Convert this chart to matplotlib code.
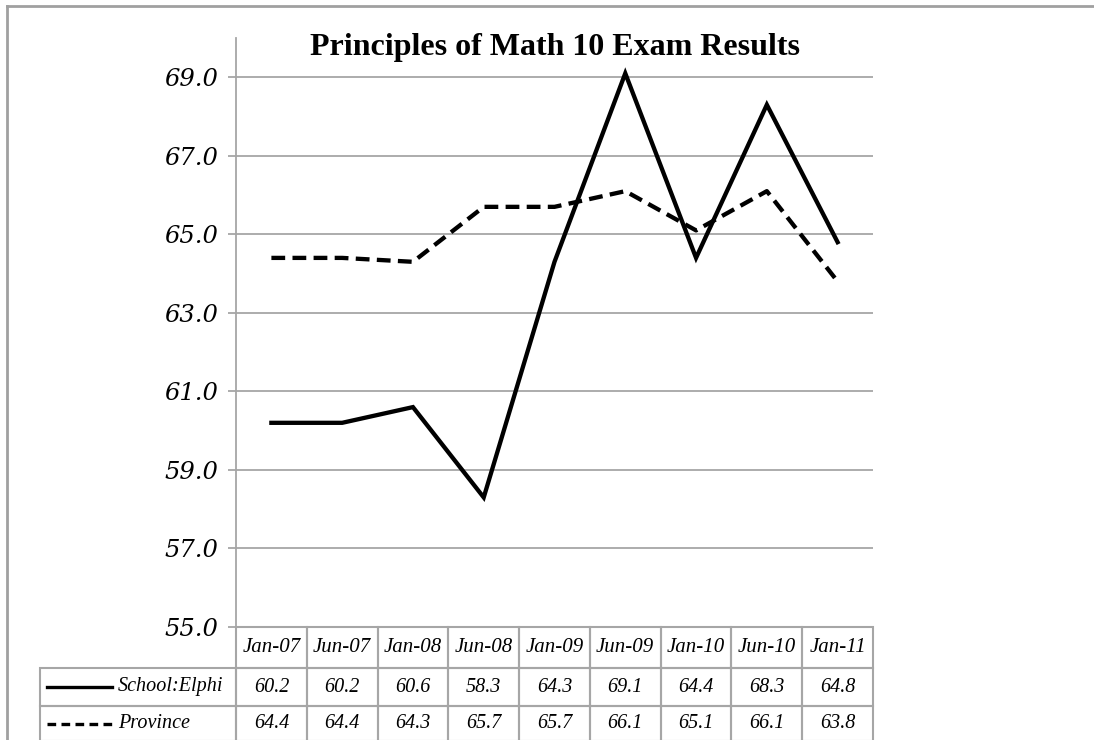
import matplotlib.pyplot as plt
from matplotlib.lines import Line2D
from matplotlib.patches import Rectangle

# data
dates = ['Jan-07', 'Jun-07', 'Jan-08', 'Jun-08', 'Jan-09', 'Jun-09', 'Jan-10', 'Jun-10', 'Jan-11']
school = [60.2, 60.2, 60.6, 58.3, 64.3, 69.1, 64.4, 68.3, 64.8]
province = [64.4, 64.4, 64.3, 65.7, 65.7, 66.1, 65.1, 66.1, 63.8]
yticks = [55.0, 57.0, 59.0, 61.0, 63.0, 65.0, 67.0, 69.0]

serif = ['DejaVu Serif']
tserif = ['Liberation Serif']
grid_c = '#a6a6a6'
dash = (0, (3.2, 1.7))

fig = plt.figure(figsize=(10.94, 7.40), dpi=100)
ax = fig.add_axes([236/1094, 1-627/740, (873-236)/1094, (627-38)/740])

x = list(range(len(dates)))
ax.plot(x, school, color='black', lw=3.1, solid_joinstyle='miter', label='School:Elphi')
ax.plot(x, province, color='black', lw=3.1, ls=dash, label='Province')

ax.set_xlim(-0.5, len(dates) - 0.5)
ax.set_ylim(55, 70)
ax.set_yticks(yticks)
ax.set_yticklabels(['%.1f' % v for v in yticks], family=serif, style='italic', fontsize=17.5)
ax.set_xticks([])
for s in ['top', 'right', 'bottom']:
    ax.spines[s].set_visible(False)
ax.spines['left'].set_color(grid_c)
ax.spines['left'].set_linewidth(1.3)
ax.tick_params(axis='y', length=6, color=grid_c, width=1.3, pad=7)
ax.yaxis.grid(True, color=grid_c, lw=1.3)
ax.set_axisbelow(True)

ax.text(0.5, (627 - 47) / 589, 'Principles of Math 10 Exam Results', transform=ax.transAxes,
        ha='center', va='center', family=tserif, weight='bold', fontsize=23)

# data table under the axes
tr = ax.get_xaxis_transform()
ax_h = 627 - 38
rows_px = [(627, 668), (668, 706), (706, 741)]
def ya(p):
    return (627 - p) / ax_h

lab_left = -0.5 - (236 - 40) / (637 / 9)
cell_kw = dict(fill=False, edgecolor=grid_c, lw=1.5, transform=tr, clip_on=False)
fs = 14.5

for i, d in enumerate(dates):
    y0, y1 = rows_px[0]
    ax.add_patch(Rectangle((i - 0.5, ya(y1)), 1, ya(y0) - ya(y1), **cell_kw))
    ax.text(i, (ya(y0) + ya(y1)) / 2, d, transform=tr, ha='center', va='center',
            family=tserif, style='italic', fontsize=15, clip_on=False)

series = [('School:Elphi', school, '-'), ('Province', province, (0, (2.6, 1.6)))]
for r, (name, vals, ls) in enumerate(series):
    y0, y1 = rows_px[r + 1]
    yc = (ya(y0) + ya(y1)) / 2
    ax.add_patch(Rectangle((lab_left, ya(y1)), -0.5 - lab_left, ya(y0) - ya(y1), **cell_kw))
    ax.add_line(Line2D([lab_left + 0.1, lab_left + 1.02], [yc, yc], transform=tr,
                       color='black', lw=2.4, ls=ls, clip_on=False))
    ax.text(lab_left + 1.1, yc, name, transform=tr, ha='left', va='center',
            family=tserif, style='italic', fontsize=fs, clip_on=False)
    for i, v in enumerate(vals):
        ax.add_patch(Rectangle((i - 0.5, ya(y1)), 1, ya(y0) - ya(y1), **cell_kw))
        ax.text(i, yc, '%.1f' % v, transform=tr, ha='center', va='center',
                family=tserif, style='italic', fontsize=fs, clip_on=False)

# outer page frame
fig.add_artist(Line2D([7/1094, 1], [1-6/740, 1-6/740], color='#a0a0a0', lw=2))
fig.add_artist(Line2D([7/1094, 7/1094], [0, 1-6/740], color='#a0a0a0', lw=2))

fig.savefig('out.png', dpi=100)
